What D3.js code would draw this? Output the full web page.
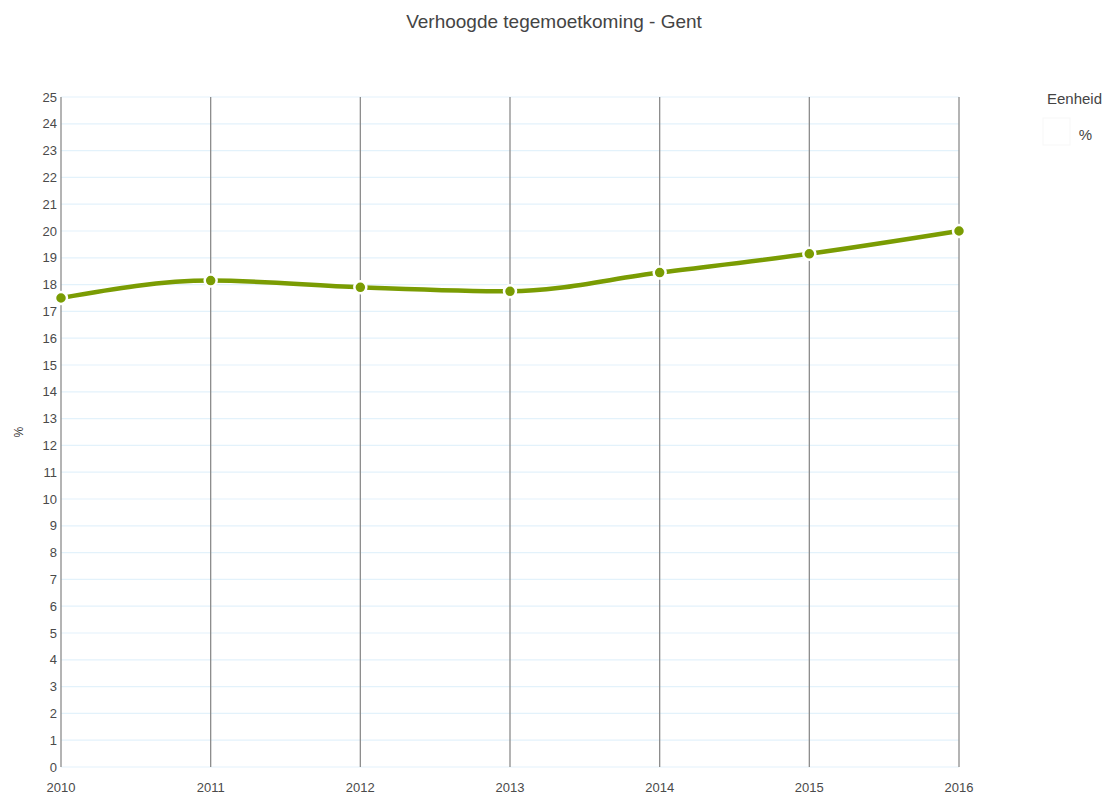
<!DOCTYPE html>
<html>
<head>
<meta charset="utf-8">
<script src="https://cdn.jsdelivr.net/npm/d3@7"></script>
<style>
  html, body { margin: 0; padding: 0; background: #fff; }
  svg { display: block; }
</style>
</head>
<body>
<svg id="chart" width="1107" height="797"></svg>
<script>
const years = [2010, 2011, 2012, 2013, 2014, 2015, 2016];
const values = [17.5, 18.15, 17.9, 17.75, 18.45, 19.15, 20.0];
const yTicks = d3.range(0, 26);
const title = "Verhoogde tegemoetkoming - Gent";
const yLabel = "%";
const legendTitle = "Eenheid";
const legendItems = ["%"];

const svg = d3.select("#chart");

const x = d3.scaleLinear().domain([2010, 2016]).range([61, 959]);
const y = d3.scaleLinear().domain([0, 25]).range([767, 97]);

// horizontal grid
svg.append("g").selectAll("line").data(yTicks).join("line")
  .attr("x1", 61).attr("x2", 959)
  .attr("y1", d => y(d)).attr("y2", d => y(d))
  .attr("stroke", "#e3f2fb").attr("stroke-width", 1.2);

// vertical grid lines
svg.append("g").selectAll("line").data(years).join("line")
  .attr("x1", d => x(d)).attr("x2", d => x(d))
  .attr("y1", 97).attr("y2", 767)
  .attr("stroke", "#8c8c8c").attr("stroke-width", 1.3);

// y axis labels
svg.append("g").selectAll("text").data(yTicks).join("text")
  .attr("x", 57).attr("y", d => y(d) + 4.5)
  .attr("text-anchor", "end")
  .attr("font-family", "Liberation Sans, Arial, sans-serif")
  .attr("font-size", 13).attr("fill", "#4a4a4a")
  .text(d => d);

// x axis labels
svg.append("g").selectAll("text").data(years).join("text")
  .attr("x", d => x(d)).attr("y", 792)
  .attr("text-anchor", "middle")
  .attr("font-family", "Liberation Sans, Arial, sans-serif")
  .attr("font-size", 13).attr("fill", "#4a4a4a")
  .text(d => d);

// y axis title
svg.append("text")
  .attr("transform", "translate(14,432) rotate(90)")
  .attr("text-anchor", "middle")
  .attr("font-family", "Liberation Sans, Arial, sans-serif")
  .attr("font-size", 12).attr("fill", "#333")
  .text(yLabel);

// title
svg.append("text")
  .attr("x", 554).attr("y", 28)
  .attr("text-anchor", "middle")
  .attr("font-family", "Liberation Sans Narrow, Liberation Sans, Arial, sans-serif")
  .attr("font-size", 19).attr("fill", "#444")
  .text(title);

// line
const data = years.map((d, i) => ({ year: d, value: values[i] }));
const line = d3.line().x(d => x(d.year)).y(d => y(d.value)).curve(d3.curveMonotoneX);
svg.append("path").datum(data)
  .attr("d", line)
  .attr("fill", "none")
  .attr("stroke", "#7a9c03")
  .attr("stroke-width", 4.5)
  .attr("stroke-linecap", "round");

svg.append("g").selectAll("circle").data(data).join("circle")
  .attr("cx", d => x(d.year)).attr("cy", d => y(d.value))
  .attr("r", 6)
  .attr("fill", "#7a9c03")
  .attr("stroke", "#fff").attr("stroke-width", 2.5);

// legend
svg.append("text")
  .attr("x", 1102).attr("y", 104)
  .attr("text-anchor", "end")
  .attr("font-family", "Liberation Sans Narrow, Liberation Sans, Arial, sans-serif")
  .attr("font-size", 15).attr("fill", "#444")
  .text(legendTitle);
svg.append("rect")
  .attr("x", 1043).attr("y", 118).attr("width", 27).attr("height", 27)
  .attr("fill", "#fff").attr("stroke", "#f7f7f7");
svg.append("g").selectAll("text").data(legendItems).join("text")
  .attr("x", 1092).attr("y", 140)
  .attr("text-anchor", "end")
  .attr("font-family", "Liberation Sans Narrow, Liberation Sans, Arial, sans-serif")
  .attr("font-size", 15).attr("fill", "#444")
  .text(d => d);
</script>
</body>
</html>
